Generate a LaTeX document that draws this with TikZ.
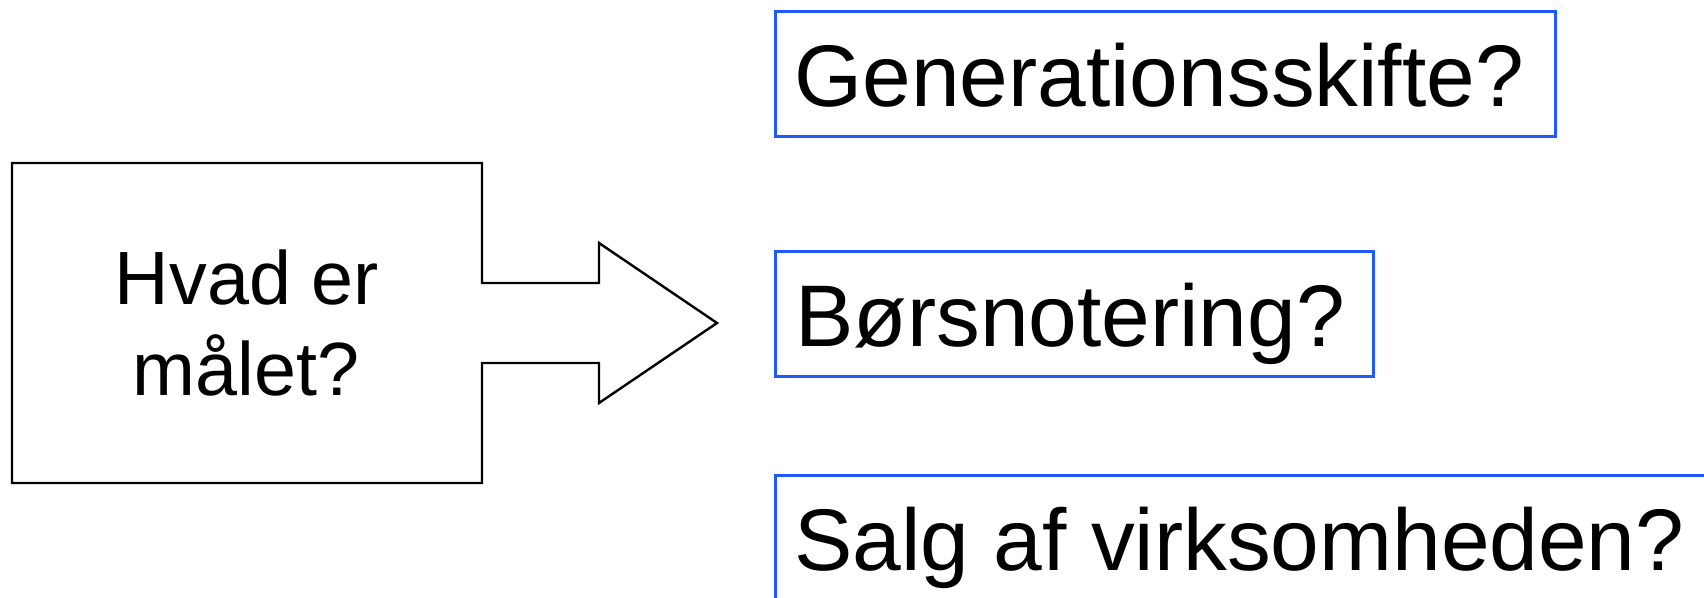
\documentclass[tikz,border=0pt]{standalone}
\usepackage{fontspec}
\setmainfont{Liberation Sans}
\definecolor{optblue}{RGB}{30,90,255}
\begin{document}
\begin{tikzpicture}[x=0.5pt,y=-0.5pt,
  outline/.style={draw=black,line width=1.2pt,line join=miter},
  optionbox/.style={draw=optblue,line width=1.5pt},
  optiontext/.style={anchor=base west,inner sep=0pt,
    font=\fontsize{43.75pt}{52pt}\selectfont},
  goaltext/.style={anchor=base,inner sep=0pt,
    font=\fontsize{37.75pt}{45pt}\selectfont}]
\useasboundingbox (0,0) rectangle (1704,598);
\clip (0,0) rectangle (1704,598);

% goal box and its block arrow, drawn as one outline
\coordinate (shafttop) at (482,283);
\coordinate (shaftbot) at (482,363);
\coordinate (tip) at (717,323);
\draw[outline] (shafttop) -- (599,283) -- (599,243) -- (tip)
  -- (599,403) -- (599,363) -- (shaftbot) -- (482,483) -- (12,483)
  -- (12,163) -- (482,163) -- cycle;
\node[goaltext] (goal1) at (247,305) {Hvad er};
\node[goaltext] (goal2) at (246,396) {målet?};

% the three options
\draw[optionbox] (775,12) rectangle (1555,137);
\node[optiontext] (opt1) at (794,107) {Generationsskifte?};

\draw[optionbox] (775,252) rectangle (1373,377);
\node[optiontext] (opt2) at (795,347) {Børsnotering?};

\draw[optionbox] (775,476) rectangle (1760,601);
\node[optiontext] (opt3) at (794,571) {Salg af virksomheden?};
\end{tikzpicture}
\end{document}
